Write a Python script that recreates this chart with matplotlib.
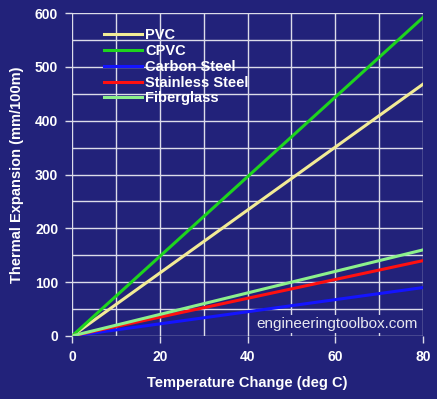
import numpy as np
import matplotlib
matplotlib.use("Agg")
from matplotlib import pyplot as plt

plt.rcParams["font.family"] = ["Liberation Sans", "DejaVu Sans"]

temp = [0, 80]
names = ["PVC", "CPVC", "Carbon Steel", "Stainless Steel", "Fiberglass"]
expansion = {
    "PVC": [0, 468],
    "CPVC": [0, 592],
    "Carbon Steel": [0, 90],
    "Stainless Steel": [0, 140],
    "Fiberglass": [0, 160],
}
colors = ["#f2eb96", "#1ed41e", "#1414ff", "#ff1010", "#8cf08c"]

bg = "#22227a"
fig = plt.figure(figsize=(4.37, 3.99), dpi=100, facecolor=bg)
ax = fig.add_axes([0.165, 0.158, 0.803, 0.809], facecolor=bg)

for name, c in zip(names, colors):
    ax.plot(temp, expansion[name], color=c, lw=2.2, label=name, zorder=3)

ax.set_xlim(0, 80)
ax.set_ylim(0, 600)
ax.set_xticks([0, 20, 40, 60, 80])
ax.set_xticks(np.arange(0, 81, 10), minor=True)
ax.set_yticks(np.arange(0, 601, 100))
ax.set_yticks(np.arange(0, 601, 50), minor=True)
ax.grid(True, which="both", color="#dcdcea", lw=1.0)
for s in ax.spines.values():
    s.set_visible(False)
ax.tick_params(which="both", colors="#dcdcea", length=5, width=1.0, pad=5)
ax.tick_params(which="minor", length=0)
for lab in ax.get_xticklabels() + ax.get_yticklabels():
    lab.set_fontweight("bold")
    lab.set_color("white")
    lab.set_fontsize(10)

ax.set_xlabel("Temperature Change (deg C)", color="white", fontweight="bold",
              fontsize=10.5, labelpad=9)
ax.set_ylabel("Thermal Expansion (mm/100m)", color="white", fontweight="bold",
              fontsize=10.5, labelpad=8)

leg = ax.legend(loc="upper left", bbox_to_anchor=(0.065, 0.98), frameon=False,
                fontsize=10.5, handlelength=2.6, handletextpad=0.25,
                labelspacing=0.12, borderaxespad=0.2)
for t in leg.get_texts():
    t.set_color("white")
    t.set_fontweight("bold")

ax.text(0.985, 0.015, "engineeringtoolbox.com", transform=ax.transAxes,
        ha="right", va="bottom", color="#e8e8f0", fontsize=11, zorder=4,
        bbox=dict(facecolor=bg, edgecolor="none", pad=1.5))

fig.savefig("out.png", dpi=100, facecolor=bg)
